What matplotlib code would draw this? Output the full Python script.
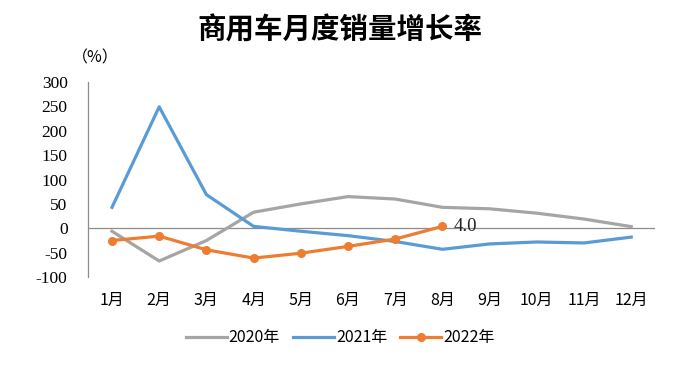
import matplotlib
matplotlib.use("Agg")
import matplotlib.pyplot as plt

months = ["1月", "2月", "3月", "4月", "5月", "6月",
          "7月", "8月", "9月", "10月", "11月", "12月"]
growth_2020 = [-6, -67, -25, 33, 50, 65, 60, 43, 40, 31, 19, 3.5]
growth_2021 = [43, 249, 69, 4, -6, -15, -27, -43, -32, -28, -30, -18]
growth_2022 = [-25, -16, -44, -61, -51, -37, -22, 4.0]
y_ticks = [-100, -50, 0, 50, 100, 150, 200, 250, 300]

SERIF = ["Liberation Serif", "Noto Sans CJK SC"]
CJK = ["Noto Sans CJK SC", "DejaVu Sans"]

fig = plt.figure(figsize=(6.8, 3.69), dpi=100)
ax = fig.add_axes([0.13, 0.249, 0.833, 0.529])

x = list(range(len(months)))
ax.axhline(0, color="#8c8c8c", lw=0.9, zorder=1)
ax.plot(x, growth_2020, color="#a5a5a5", lw=2.3, label="2020年", zorder=2)
ax.plot(x, growth_2021, color="#5b9bd5", lw=2.3, label="2021年", zorder=3)
ax.plot(x[:len(growth_2022)], growth_2022, color="#ed7d31", lw=2.3,
        marker="o", ms=5.5, label="2022年", zorder=4)

ax.annotate(f"{growth_2022[-1]:.1f}", (len(growth_2022) - 1, growth_2022[-1]),
            xytext=(8, 0), textcoords="offset points", va="center",
            fontsize=13.5, family=SERIF, color="#222222")

ax.set_xlim(-0.5, 11.5)
ax.set_ylim(-100, 300)
ax.set_yticks(y_ticks)
ax.set_yticklabels([str(v) for v in y_ticks], family=SERIF, fontsize=12.5)
ax.set_xticks(x)
ax.set_xticklabels(months, family=CJK, fontsize=11.5)
ax.tick_params(length=0)
ax.tick_params(axis="x", pad=11)
ax.tick_params(axis="y", pad=15)
for s in ("top", "right", "bottom"):
    ax.spines[s].set_visible(False)
ax.spines["left"].set_color("#8c8c8c")
ax.spines["left"].set_linewidth(0.9)

fig.text(0.5, 0.918, "商用车月度销量增长率", ha="center", va="center",
         fontsize=20.5, fontweight="bold", family=CJK)
fig.text(0.14, 0.843, "（%）", ha="center", va="center", fontsize=11.5,
         family=CJK)

fig.legend(loc="center", bbox_to_anchor=(0.5, 0.085), ncol=3, frameon=False,
           prop={"family": CJK, "size": 11.5}, handlelength=2.6,
           handletextpad=0.1, columnspacing=0.8)

fig.savefig("out.png", dpi=100)
